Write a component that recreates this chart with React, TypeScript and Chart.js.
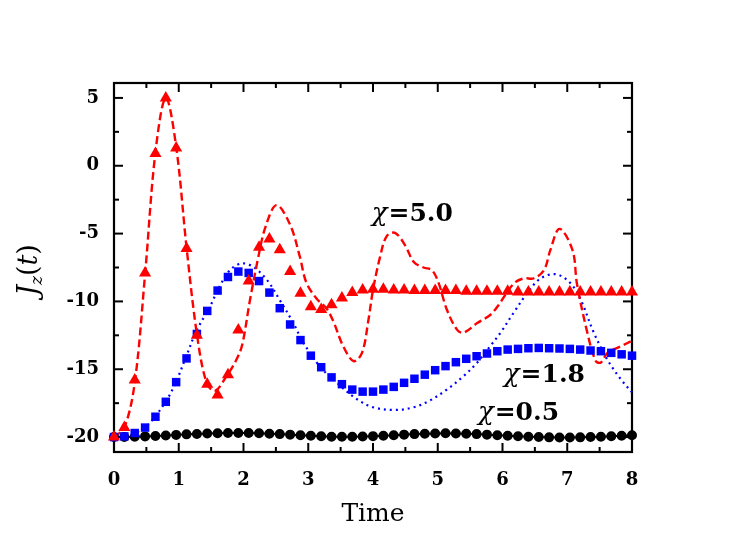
import React, { useEffect, useRef } from 'react';
import { Chart, registerables } from 'chart.js';
Chart.register(...registerables);

// sample times of the exact (marker) results
const markerTimes = [
  0, 0.16, 0.32, 0.48, 0.64, 0.8, 0.96, 1.12, 1.28, 1.44, 1.6, 1.76, 1.92, 2.08, 2.24, 2.4, 2.56,
  2.72, 2.88, 3.04, 3.2, 3.36, 3.52, 3.68, 3.84, 4.0, 4.16, 4.32, 4.48, 4.64, 4.8, 4.96, 5.12,
  5.28, 5.44, 5.6, 5.76, 5.92, 6.08, 6.24, 6.4, 6.56, 6.72, 6.88, 7.04, 7.2, 7.36, 7.52, 7.68,
  7.84, 8.0,
];

// chi = 5.0 exact (triangles)
const tri50 = [
  -20, -19.3, -15.8, -7.9, 0.9, 5.0, 1.3, -6.1, -12.5, -16.1, -16.9, -15.4, -12.1, -8.5, -6.0,
  -5.4, -6.2, -7.8, -9.4, -10.4, -10.6, -10.25, -9.75, -9.35, -9.15, -9.1, -9.1, -9.15, -9.15,
  -9.2, -9.2, -9.2, -9.2, -9.2, -9.25, -9.25, -9.25, -9.25, -9.25, -9.3, -9.3, -9.3, -9.3, -9.3,
  -9.3, -9.3, -9.3, -9.3, -9.3, -9.3, -9.3,
];

// chi = 1.8 exact (squares)
const sq18 = [
  -20, -19.95, -19.7, -19.3, -18.5, -17.4, -15.95, -14.2, -12.4, -10.7, -9.2, -8.2, -7.8, -7.9,
  -8.5, -9.35, -10.5, -11.7, -12.85, -14.0, -14.85, -15.6, -16.1, -16.5, -16.65, -16.65, -16.5,
  -16.3, -16.0, -15.7, -15.4, -15.07, -14.77, -14.48, -14.23, -14.04, -13.84, -13.67, -13.55,
  -13.5, -13.45, -13.43, -13.45, -13.47, -13.5, -13.55, -13.62, -13.67, -13.79, -13.9, -14.0,
];

// chi = 0.5 exact (circles)
const circ05 = [
  -20.0, -20.0, -19.98, -19.95, -19.92, -19.88, -19.84, -19.8, -19.77, -19.74, -19.72, -19.7,
  -19.7, -19.7, -19.72, -19.75, -19.78, -19.82, -19.86, -19.9, -19.94, -19.97, -19.98, -19.98,
  -19.96, -19.93, -19.9, -19.86, -19.82, -19.78, -19.75, -19.73, -19.72, -19.73, -19.75, -19.78,
  -19.82, -19.86, -19.9, -19.94, -19.97, -20.0, -20.02, -20.03, -20.03, -20.02, -20.0, -19.97,
  -19.94, -19.9, -19.87,
];

// chi = 5.0 approximation (red dashed)
const dashT = [
  0, 0.16, 0.32, 0.48, 0.64, 0.8, 0.96, 1.12, 1.28, 1.43, 1.56, 1.74, 1.89, 1.98, 2.1, 2.23, 2.34,
  2.51, 2.72, 2.87, 2.97, 3.13, 3.28, 3.39, 3.54, 3.7, 3.83, 3.93, 4.0, 4.11, 4.21, 4.34, 4.5,
  4.63, 4.78, 4.91, 5.01, 5.14, 5.3, 5.4, 5.61, 5.81, 5.92, 6.17, 6.33, 6.48, 6.64, 6.74, 6.88,
  7.08, 7.15, 7.31, 7.44, 7.52, 7.62, 7.83, 8.0,
];
const dashV = [
  -20, -19.3, -16, -8, 1, 5, 1.4, -6, -12.4, -16, -16.6, -15.5, -14.3, -13.2, -9.9, -6.7, -4.5,
  -2.9, -4.35, -6.7, -8.6, -9.8, -10.5, -11.5, -13.3, -14.4, -13.8, -11.35, -9.15, -6.7, -5.2,
  -4.95, -5.9, -7.1, -7.5, -7.7, -8.6, -10.6, -12.1, -12.3, -11.6, -11.0, -10.4, -8.7, -8.3, -8.3,
  -7.7, -6.2, -4.65, -6.2, -8.7, -12.3, -14.4, -14.5, -13.8, -13.3, -12.9,
];

// chi = 1.8 approximation (blue dotted)
const dotT = [
  0, 0.19, 0.5, 0.81, 0.96, 1.12, 1.27, 1.48, 1.63, 1.79, 1.97, 2.15, 2.36, 2.56, 2.77, 2.92,
  3.18, 3.49, 3.75, 4.0, 4.34, 4.63, 4.88, 5.14, 5.4, 5.61, 5.81, 5.97, 6.17, 6.38, 6.59, 6.83,
  7.05, 7.21, 7.41, 7.62, 7.83, 8.0,
];
const dotV = [
  -20, -19.9, -19.2, -17.3, -15.9, -14.0, -12.2, -10.4, -8.9, -7.7, -7.2, -7.45, -8.4, -9.9,
  -11.6, -13.0, -14.8, -16.2, -17.2, -17.8, -18.0, -17.8, -17.3, -16.5, -15.5, -14.5, -13.3,
  -12.3, -10.85, -9.4, -8.3, -8.0, -8.66, -9.9, -12.3, -14.3, -15.75, -16.7,
];

const xTickValues = [0, 1, 2, 3, 4, 5, 6, 7, 8];
const yTickValues = [-20, -15, -10, -5, 0, 5];
const xMinorValues = [0, 0.5, 1, 1.5, 2, 2.5, 3, 3.5, 4, 4.5, 5, 5.5, 6, 6.5, 7, 7.5, 8];
const yMinorValues = [-20, -17.5, -15, -12.5, -10, -7.5, -5, -2.5, 0, 2.5, 5];

const annotations = [
  { label: '5.0', t: 3.98, v: -4.1 },
  { label: '1.8', t: 6.02, v: -15.97 },
  { label: '0.5', t: 5.62, v: -18.75 },
];

const SERIF = '"DejaVu Serif", "Liberation Serif", serif';

const pts = (xs: number[], ys: number[]) => xs.map((x, i) => ({ x, y: ys[i] }));

const framePlugin = {
  id: 'frameTicks',
  beforeDatasetsDraw(chart: any) {
    const { ctx, chartArea: a, scales } = chart;
    const x = scales.x;
    const y = scales.y;
    ctx.save();
    ctx.strokeStyle = '#000';
    ctx.lineWidth = 2.2;
    ctx.strokeRect(a.left, a.top, a.right - a.left, a.bottom - a.top);
    const line = (x1: number, y1: number, x2: number, y2: number) => {
      ctx.beginPath();
      ctx.moveTo(x1, y1);
      ctx.lineTo(x2, y2);
      ctx.stroke();
    };
    ctx.lineWidth = 2;
    xMinorValues.forEach((v) => {
      const px = x.getPixelForValue(v);
      const len = Number.isInteger(v) ? 9 : 5;
      line(px, a.bottom, px, a.bottom - len);
      line(px, a.top, px, a.top + len);
    });
    yMinorValues.forEach((v) => {
      const py = y.getPixelForValue(v);
      const len = v % 5 === 0 ? 9 : 5;
      line(a.left, py, a.left + len, py);
      line(a.right, py, a.right - len, py);
    });
    ctx.restore();
  },
  afterDraw(chart: any) {
    const { ctx, chartArea: a, scales } = chart;
    const x = scales.x;
    const y = scales.y;
    ctx.save();
    ctx.fillStyle = '#000';
    ctx.textBaseline = 'alphabetic';
    // annotations
    annotations.forEach((an) => {
      const px = x.getPixelForValue(an.t);
      const py = y.getPixelForValue(an.v);
      ctx.font = `italic 26px ${SERIF}`;
      ctx.textAlign = 'left';
      ctx.fillText('\u03c7', px, py);
      const w = ctx.measureText('\u03c7').width;
      ctx.font = `bold 25px ${SERIF}`;
      ctx.fillText('=' + an.label, px + w + 1, py);
    });
    // x title
    ctx.font = `25px ${SERIF}`;
    ctx.textAlign = 'center';
    ctx.fillText('Time', (a.left + a.right) / 2, 521);
    // y title J_z(t)
    ctx.translate(37, 270);
    ctx.rotate(-Math.PI / 2);
    const parts = [
      { s: 'J', f: `italic 27px ${SERIF}`, dy: 0 },
      { s: 'z', f: `italic 17px ${SERIF}`, dy: 5 },
      { s: '(', f: `27px ${SERIF}`, dy: 0 },
      { s: 't', f: `italic 27px ${SERIF}`, dy: 0 },
      { s: ')', f: `27px ${SERIF}`, dy: 0 },
    ];
    let total = 0;
    const widths = parts.map((p) => {
      ctx.font = p.f;
      const w = ctx.measureText(p.s).width;
      total += w;
      return w;
    });
    let cx = -total / 2;
    ctx.textAlign = 'left';
    parts.forEach((p, i) => {
      ctx.font = p.f;
      ctx.fillText(p.s, cx, p.dy);
      cx += widths[i];
    });
    ctx.restore();
  },
};

export default function App() {
  const ref = useRef<HTMLCanvasElement | null>(null);
  useEffect(() => {
    document.body.style.margin = '0';
    if (!ref.current) return;
    const chart = new Chart(ref.current, {
      type: 'scatter',
      data: {
        datasets: [
          {
            label: 'chi5 exact',
            data: pts(markerTimes, tri50),
            pointStyle: 'triangle',
            pointRadius: 7,
            backgroundColor: '#ff0000',
            borderColor: '#ff0000',
            borderWidth: 0,
            showLine: false,
            clip: false,
          },
          {
            label: 'chi1.8 exact',
            data: pts(markerTimes, sq18),
            pointStyle: 'rect',
            pointRadius: 6,
            backgroundColor: '#0000ff',
            borderColor: '#0000ff',
            borderWidth: 0,
            showLine: false,
            clip: false,
          },
          {
            label: 'chi0.5 exact',
            data: pts(markerTimes, circ05),
            pointStyle: 'circle',
            pointRadius: 4,
            backgroundColor: '#000',
            borderColor: '#000',
            borderWidth: 2,
            showLine: true,
            clip: false,
          },
          {
            label: 'chi5 approx',
            data: pts(dashT, dashV),
            pointRadius: 0,
            borderColor: '#ff0000',
            borderWidth: 2.4,
            borderDash: [8, 4],
            showLine: true,
            tension: 0.35,
            clip: false,
          },
          {
            label: 'chi1.8 approx',
            data: pts(dotT, dotV),
            pointRadius: 0,
            borderColor: '#0000ff',
            borderWidth: 2.2,
            borderDash: [2, 4],
            showLine: true,
            tension: 0.35,
            clip: false,
          },
        ],
      },
      options: {
        responsive: false,
        animation: false,
        layout: { padding: { left: 0, top: 83, right: 115, bottom: 0 } },
        plugins: { legend: { display: false }, tooltip: { enabled: false } },
        scales: {
          x: {
            type: 'linear',
            min: 0,
            max: 8,
            grid: { display: false, drawTicks: false },
            border: { display: false },
            afterBuildTicks: (s: any) => {
              s.ticks = xTickValues.map((v) => ({ value: v }));
            },
            afterFit: (s: any) => {
              s.height = 85;
            },
            ticks: {
              padding: 18,
              color: '#000',
              font: { family: SERIF, weight: 'bold', size: 18 },
              callback: (v: any) => String(v),
            },
          },
          y: {
            type: 'linear',
            min: -21.1,
            max: 6.1,
            grid: { display: false, drawTicks: false },
            border: { display: false },
            afterBuildTicks: (s: any) => {
              s.ticks = yTickValues.map((v) => ({ value: v }));
            },
            afterFit: (s: any) => {
              s.width = 114;
            },
            ticks: {
              padding: 15,
              color: '#000',
              font: { family: SERIF, weight: 'bold', size: 18 },
              callback: (v: any) => String(v),
            },
          },
        },
      },
      plugins: [framePlugin],
    } as any);
    return () => chart.destroy();
  }, []);
  return (
    <div style={{ width: 747, height: 537, background: '#fff' }}>
      <canvas ref={ref} width={747} height={537} />
    </div>
  );
}
